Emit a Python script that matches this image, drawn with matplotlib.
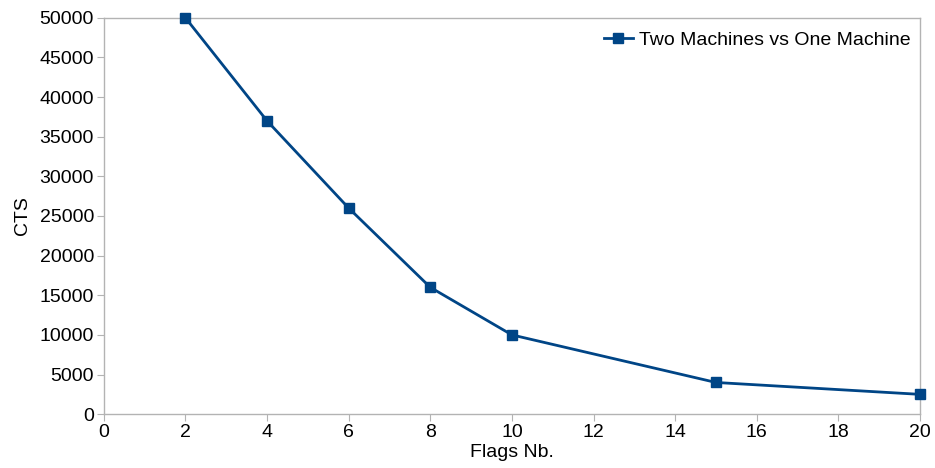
import matplotlib
matplotlib.use("Agg")
import matplotlib.pyplot as plt

flags = [2, 4, 6, 8, 10, 15, 20]
cts = [50000, 37000, 26000, 16000, 10000, 4000, 2500]
series_label = "Two Machines vs One Machine"

plt.rcParams['font.family'] = ['Liberation Sans', 'DejaVu Sans']

fig = plt.figure(figsize=(9.35, 4.68), dpi=100)
ax = fig.add_axes([0.111, 0.115, 0.873, 0.847])

ax.plot(flags, cts, color='#004586', linewidth=2, marker='s', markersize=7,
        label=series_label, clip_on=False, zorder=3)

ax.set_xlim(0, 20)
ax.set_ylim(0, 50000)
ax.set_xticks(range(0, 21, 2))
ax.set_yticks(range(0, 50001, 5000))
ax.set_xlabel('Flags Nb.', fontsize=14, labelpad=2)
ax.set_ylabel('CTS', fontsize=14, labelpad=6)

for s in ax.spines.values():
    s.set_color('#b3b3b3')
    s.set_linewidth(1)
ax.tick_params(axis='both', direction='out', length=5, color='#b3b3b3',
               labelsize=14, pad=2)

leg = ax.legend(loc='upper right', frameon=False, fontsize=14,
                handlelength=1.5, handletextpad=0.3, borderaxespad=0.1,
                bbox_to_anchor=(1.0, 0.99))

fig.savefig('out.png', dpi=100)
